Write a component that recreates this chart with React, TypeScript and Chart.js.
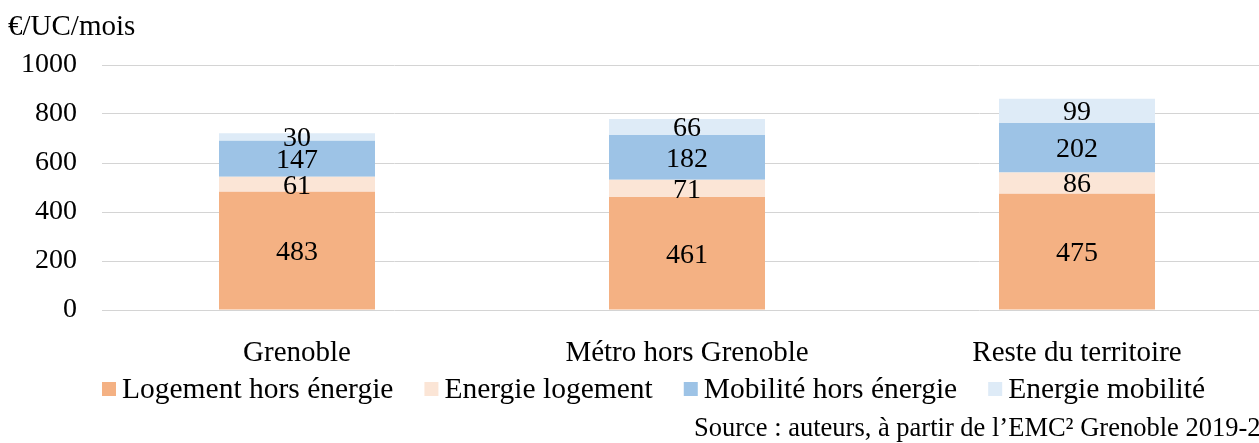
import React, { useEffect, useRef } from "react";
import { Chart, registerables } from "chart.js";

Chart.register(...registerables);

const categories = ["Grenoble", "Métro hors Grenoble", "Reste du territoire"];
const seriesNames = ["Logement hors énergie", "Energie logement", "Mobilité hors énergie", "Energie mobilité"];
const logementHorsEnergie = [483, 461, 475];
const energieLogement = [61, 71, 86];
const mobiliteHorsEnergie = [147, 182, 202];
const energieMobilite = [30, 66, 99];
const seriesColors = ["#F4B183", "#FBE5D6", "#9DC3E6", "#DEEBF7"];
const yTicks = [0, 200, 400, 600, 800, 1000];
const unitLabel = "€/UC/mois";
const sourceText = "Source : auteurs, à partir de l’EMC² Grenoble 2019-2020";

const FONT = "'Liberation Serif', 'Times New Roman', serif";

export default function App() {
  const canvasRef = useRef<HTMLCanvasElement | null>(null);

  useEffect(() => {
    const canvas = canvasRef.current;
    if (!canvas) return;
    const values = [logementHorsEnergie, energieLogement, mobiliteHorsEnergie, energieMobilite];

    const overlay = {
      id: "overlay",
      afterDatasetsDraw(chart: any) {
        const ctx = chart.ctx;
        ctx.save();
        ctx.fillStyle = "#000";
        ctx.font = `28px ${FONT}`;
        ctx.textAlign = "center";
        ctx.textBaseline = "middle";
        chart.data.datasets.forEach((ds: any, i: number) => {
          const meta = chart.getDatasetMeta(i);
          meta.data.forEach((el: any, j: number) => {
            const p = el.getProps(["x", "y", "base"], true);
            ctx.fillText(String(ds.data[j]), p.x, (p.y + p.base) / 2 + 2);
          });
        });
        ctx.restore();
      },
      afterDraw(chart: any) {
        const ctx = chart.ctx;
        ctx.save();
        ctx.fillStyle = "#000";
        ctx.textBaseline = "middle";
        ctx.textAlign = "left";
        ctx.font = `29px ${FONT}`;
        ctx.fillText(unitLabel, 8, 27);
        // legend
        ctx.font = `29.5px ${FONT}`;
        let x = chart.chartArea.left;
        const ly = 389;
        seriesNames.forEach((name, i) => {
          ctx.fillStyle = seriesColors[i];
          ctx.fillRect(x, ly - 7, 14, 14);
          ctx.fillStyle = "#000";
          ctx.fillText(name, x + 20, ly + 1);
          x += 20 + ctx.measureText(name).width + 31;
        });
        ctx.font = `26.5px ${FONT}`;
        ctx.fillText(sourceText, 694, 429);
        ctx.restore();
      },
    };

    const chart = new Chart(canvas, {
      type: "bar",
      data: {
        labels: categories,
        datasets: seriesNames.map((name, i) => ({
          label: name,
          data: values[i],
          backgroundColor: seriesColors[i],
          borderWidth: 0,
          barPercentage: 0.4,
          categoryPercentage: 1,
        })),
      },
      options: {
        responsive: false,
        animation: false,
        layout: { padding: { top: 65, left: 0, right: 0, bottom: 0 } },
        plugins: {
          legend: { display: false },
          tooltip: { enabled: false },
        },
        scales: {
          x: {
            stacked: true,
            grid: { display: false },
            border: { display: false },
            ticks: { color: "#000", font: { family: FONT, size: 29 }, padding: 18 },
            afterFit(scale: any) {
              scale.height = 133;
            },
          },
          y: {
            stacked: true,
            min: 0,
            max: 1000,
            afterBuildTicks(scale: any) {
              scale.ticks = yTicks.map((v) => ({ value: v }));
            },
            grid: { color: "#D4D4D4", lineWidth: 1, drawTicks: false },
            border: { display: false },
            ticks: {
              color: "#000",
              font: { family: FONT, size: 28 },
              padding: 25,
              callback: (v: any) => String(v),
            },
            afterFit(scale: any) {
              scale.width = 102;
            },
          },
        },
      },
      plugins: [overlay],
    });
    return () => chart.destroy();
  }, []);

  return (
    <div style={{ position: "absolute", left: 0, top: 0, width: 1259, height: 443, overflow: "hidden", background: "#fff" }}>
      <canvas ref={canvasRef} width={1272} height={443} style={{ display: "block" }} />
    </div>
  );
}
